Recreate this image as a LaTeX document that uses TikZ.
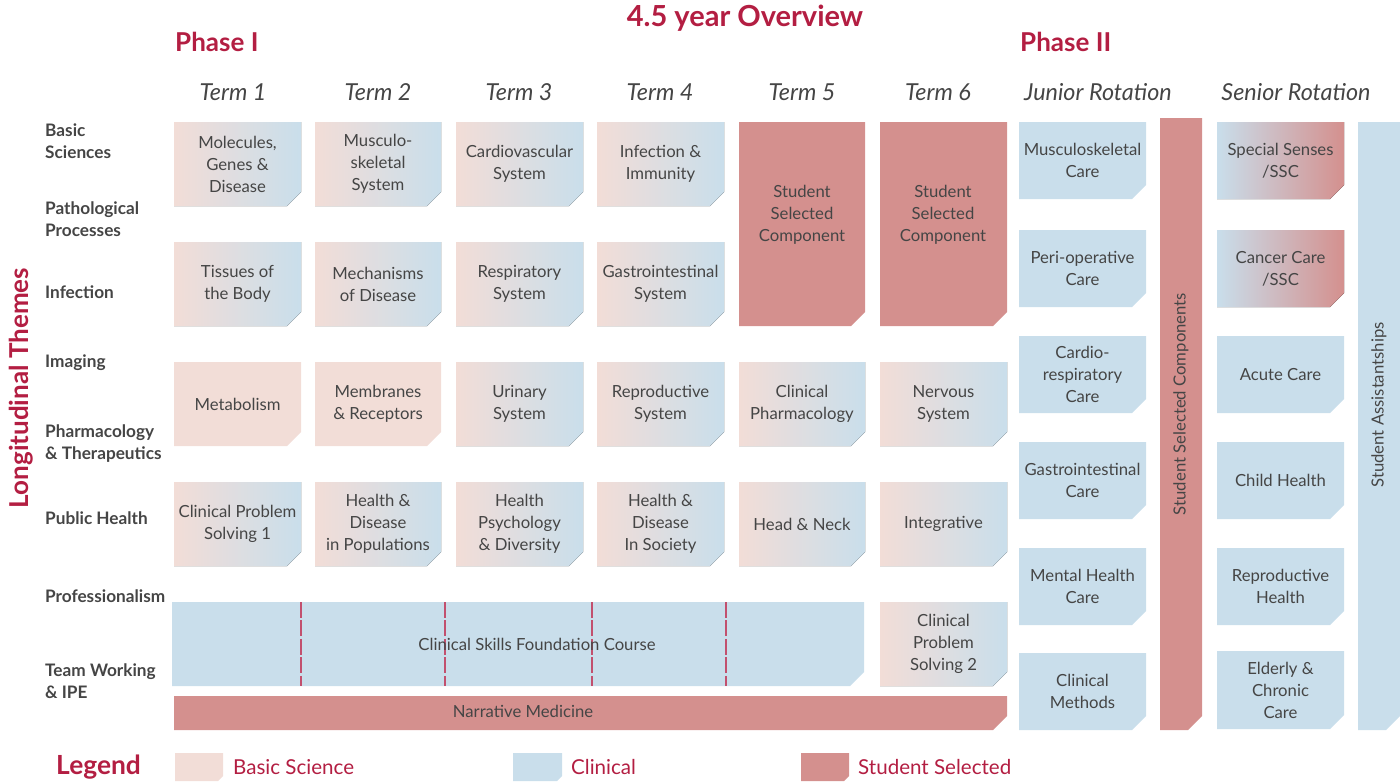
\documentclass[tikz,border=0pt]{standalone}
\usepackage{fontspec}
\setmainfont{Lato}
\usetikzlibrary{positioning}

\definecolor{bsci}{HTML}{F2DDD7}
\definecolor{clin}{HTML}{C9DEEB}
\definecolor{ssel}{HTML}{D4908E}
\definecolor{crim}{HTML}{B31E42}
\definecolor{ink}{HTML}{454545}
\definecolor{divred}{HTML}{C2506E}

% box with cut corner: name, x1, y1, x2, y2, fill, text
\newcommand{\modbox}[7]{%
  \fill[#6] (#2,#3) -- (#4,#3) -- (#4,#5-14) -- (#4-14,#5) -- (#2,#5) -- cycle;
  \node[boxtext] (#1) at ({(#2+#4)/2},{(#3+#5)/2}) {#7};}

\begin{document}
\begin{tikzpicture}
[x=0.02cm,y=-0.02cm,
mix/.style = {left color=bsci, right color=clin},
mixssc/.style = {left color=clin, right color=ssel},
bs/.style = {fill=bsci}, cl/.style = {fill=clin}, ss/.style = {fill=ssel},
boxtext/.style = {text=ink, align=center, font=\fontsize{9.5}{12.5}\selectfont},
theme/.style = {anchor=west, text=ink, align=left, font=\bfseries\fontsize{9.8}{12.5}\selectfont},
term/.style = {text=ink, font=\itshape\fontsize{13.3}{15}\selectfont},
head/.style = {text=crim, font=\bfseries\fontsize{14.8}{17}\selectfont},
legtext/.style = {anchor=west, text=crim, font=\fontsize{11.7}{13}\selectfont},
divider/.style = {divred, line width=0.6pt, dash pattern=on 9pt off 1.5pt},]
\useasboundingbox (0,0) rectangle (1400,782);

% headings
\node[head, font=\bfseries\fontsize{16.5}{18}\selectfont] (title) at (745,18) {4.5 year Overview};
\node[head, anchor=west] (ph1) at (169,42) {Phase I};
\node[head, anchor=west] (ph2) at (1014,42) {Phase II};
\node[term] (t1) at (233,92) {Term 1};
\node[term] (t2) at (378,92) {Term 2};
\node[term] (t3) at (519,92) {Term 3};
\node[term] (t4) at (660,92) {Term 4};
\node[term] (t5) at (802,92) {Term 5};
\node[term] (t6) at (938,92) {Term 6};
\node[term] (jr) at (1098,92) {Junior Rotation};
\node[term] (sr) at (1296,92) {Senior Rotation};

% themes
\node[head, rotate=90] (longit) at (21,388) {Longitudinal Themes};
\node[theme] (th1) at (39,141) {Basic\\Sciences};
\node[theme] (th2) at (39,219) {Pathological\\Processes};
\node[theme] (th3) at (39,292) {Infection};
\node[theme] (th4) at (39,363) {Imaging};
\node[theme] (th5) at (39,444) {Pharmacology\\\& Therapeutics};
\node[theme] (th6) at (39,518) {Public Health};
\node[theme] (th7) at (39,596) {Professionalism};
\node[theme] (th8) at (39,681) {Team Working\\\& IPE};

% phase I
\modbox{mol}{174}{122}{301}{206}{mix}{Molecules,\\Genes \&\\Disease}
\modbox{musc}{315}{122}{441}{206}{mix}{Musculo-\\skeletal\\System}
\modbox{cardio}{456}{122}{583}{206}{mix}{Cardiovascular\\System}
\modbox{infimm}{597}{122}{724}{206}{mix}{Infection \&\\Immunity}
\modbox{tissues}{174}{242}{301}{326}{mix}{Tissues of\\the Body}
\modbox{mech}{315}{242}{441}{326}{mix}{Mechanisms\\of Disease}
\modbox{resp}{456}{242}{583}{326}{mix}{Respiratory\\System}
\modbox{gitract}{597}{242}{724}{326}{mix}{Gastrointestinal\\System}
\modbox{metab}{174}{362}{301}{446}{bs}{Metabolism}
\modbox{membr}{315}{362}{441}{446}{bs}{Membranes\\\& Receptors}
\modbox{urin}{456}{362}{583}{446}{mix}{Urinary\\System}
\modbox{repro}{597}{362}{724}{446}{mix}{Reproductive\\System}
\modbox{cps1}{174}{482}{301}{566}{mix}{Clinical Problem\\Solving 1}
\modbox{hdpop}{315}{482}{441}{566}{mix}{Health \&\\Disease\\in Populations}
\modbox{hpsych}{456}{482}{583}{566}{mix}{Health\\Psychology\\\& Diversity}
\modbox{hdsoc}{597}{482}{724}{566}{mix}{Health \&\\Disease\\In Society}
\fill[ss] (739,122) -- (865,122) -- (865,312) -- (851,326) -- (739,326) -- cycle;
\node[boxtext] (ssc5) at (802,215) {Student\\Selected\\Component};
\fill[ss] (880,122) -- (1007,122) -- (1007,312) -- (993,326) -- (880,326) -- cycle;
\node[boxtext] (ssc6) at (943,215) {Student\\Selected\\Component};
\modbox{clinpharm}{739}{362}{865}{446}{mix}{Clinical\\Pharmacology}
\modbox{nerv}{880}{362}{1007}{446}{mix}{Nervous\\System}
\modbox{headneck}{739}{482}{865}{566}{mix}{Head \& Neck}
\modbox{integr}{880}{482}{1007}{566}{mix}{Integrative}
\modbox{cps2}{880}{602}{1007}{686}{mix}{Clinical\\Problem\\Solving 2}
\fill[cl] (172,602) -- (864,602) -- (864,672) -- (850,686) -- (172,686) -- cycle;
\foreach \x in {301,445,592,726}
  \draw[divider] (\x,602) -- (\x,686);
\node[boxtext] (csfc) at (537,644) {Clinical Skills Foundation Course};
\fill[ss] (174,696) -- (1007,696) -- (1007,716) -- (993,730) -- (174,730) -- cycle;
\node[boxtext] (narr) at (523,711) {Narrative Medicine};

% phase II
\modbox{jr1}{1019}{122}{1146}{199}{cl}{Musculoskeletal\\Care}
\modbox{jr2}{1019}{230}{1146}{307}{cl}{Peri-operative\\Care}
\modbox{jr3}{1019}{336}{1146}{413}{cl}{Cardio-\\respiratory\\Care}
\modbox{jr4}{1019}{442}{1146}{519}{cl}{Gastrointestinal\\Care}
\modbox{jr5}{1019}{548}{1146}{625}{cl}{Mental Health\\Care}
\modbox{jr6}{1019}{653}{1146}{730}{cl}{Clinical\\Methods}
\fill[ss] (1160,118) -- (1202,118) -- (1202,716) -- (1188,730) -- (1160,730) -- cycle;
\node[boxtext, rotate=90] (sscbar) at (1181,404) {Student Selected Components};
\modbox{sr1}{1217}{122}{1344}{199}{mixssc}{Special Senses\\/SSC}
\modbox{sr2}{1217}{230}{1344}{307}{mixssc}{Cancer Care\\/SSC}
\modbox{sr3}{1217}{336}{1344}{413}{cl}{Acute Care}
\modbox{sr4}{1217}{442}{1344}{519}{cl}{Child Health}
\modbox{sr5}{1217}{548}{1344}{625}{cl}{Reproductive\\Health}
\modbox{sr6}{1217}{651}{1344}{729}{cl}{Elderly \&\\Chronic\\Care}
\fill[cl] (1358,122) -- (1400,122) -- (1400,716) -- (1386,730) -- (1358,730) -- cycle;
\node[boxtext, rotate=90] (assist) at (1379,405) {Student Assistantships};

% legend
\node[head, anchor=west, font=\bfseries\fontsize{15}{17}\selectfont] (legend) at (50,767) {Legend};
\fill[bs] (175,753) -- (223,753) -- (223,776) -- (218,781) -- (175,781) -- cycle;
\node[legtext] (lbs) at (227,767) {Basic Science};
\fill[cl] (513,753) -- (562,753) -- (562,776) -- (557,781) -- (513,781) -- cycle;
\node[legtext] (lcl) at (565,767) {Clinical};
\fill[ss] (801,753) -- (849,753) -- (849,776) -- (844,781) -- (801,781) -- cycle;
\node[legtext] (lss) at (852,767) {Student Selected};

\end{tikzpicture}
\end{document}
